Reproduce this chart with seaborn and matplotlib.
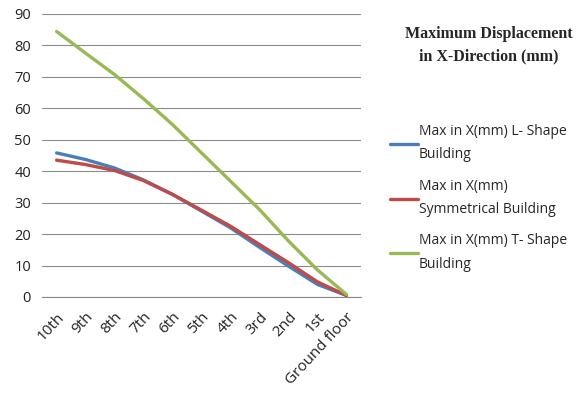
import matplotlib
matplotlib.use("Agg")
import matplotlib.pyplot as plt
import seaborn as sns
import pandas as pd
from matplotlib.ticker import FixedLocator

floors = ["10th", "9th", "8th", "7th", "6th", "5th", "4th", "3rd", "2nd", "1st", "Ground floor"]
l_shape = [45.8, 43.7, 41.0, 37.2, 32.6, 27.3, 22.0, 15.8, 9.8, 4.0, 0.5]
symmetrical = [43.5, 42.1, 40.2, 37.0, 32.6, 27.6, 22.5, 16.7, 10.9, 4.8, 0.5]
t_shape = [84.4, 77.5, 70.7, 63.0, 54.8, 45.8, 36.8, 27.8, 17.8, 8.6, 0.8]
series_names = ["Max in X(mm) L- Shape\nBuilding",
                "Max in X(mm)\nSymmetrical Building",
                "Max in X(mm) T- Shape\nBuilding"]
colors = ["#4A7EBB", "#BE4B48", "#98B954"]
title = "Maximum Displacement\nin X-Direction (mm)"

rows = []
for name, vals in zip(series_names, [l_shape, symmetrical, t_shape]):
    for i, (f, v) in enumerate(zip(floors, vals)):
        rows.append({"pos": i, "floor": f, "value": v, "series": name})
df = pd.DataFrame(rows)

sns.set_style("white")
plt.rcParams["font.family"] = ["Open Sans", "DejaVu Sans"]

fig = plt.figure(figsize=(5.85, 3.96), dpi=100)
ax = fig.add_axes([0.072, 0.25, 0.545, 0.715])

sns.lineplot(data=df, x="pos", y="value", hue="series", palette=colors,
             hue_order=series_names, linewidth=2.4, ax=ax, legend=True, sort=False)

ax.set_xlim(-0.5, len(floors) - 0.5)
ax.set_ylim(0, 90)
ax.set_yticks(range(0, 91, 10))
ax.set_xticks(range(len(floors)))
ax.set_xticklabels(floors, rotation=47, ha="right", rotation_mode="anchor", fontsize=11, color="#222222")
ax.tick_params(axis="y", labelsize=10.5, labelcolor="#222222", length=0, pad=8)
ax.tick_params(axis="x", length=0, pad=9)
ax.xaxis.set_minor_locator(FixedLocator([i - 0.5 for i in range(len(floors) + 1)]))
ax.tick_params(axis="x", which="minor", length=5, color="#888888", direction="out", width=0.8)
ax.set_xlabel("")
ax.set_ylabel("")
ax.grid(axis="y", color="#8c8c8c", linewidth=0.8)
ax.set_axisbelow(True)
for s in ["top", "right", "left"]:
    ax.spines[s].set_visible(False)
ax.spines["bottom"].set_color("#888888")
ax.spines["bottom"].set_linewidth(0.8)

handles, labels = ax.get_legend_handles_labels()
ax.get_legend().remove()
leg = fig.legend(handles, labels, loc="upper left", bbox_to_anchor=(0.645, 0.718),
                 frameon=False, fontsize=10, handlelength=2.0, handletextpad=0.1,
                 labelspacing=1.18)
for t in leg.get_texts():
    t.set_linespacing(1.75)

fig.text(0.835, 0.935, title, ha="center", va="top", fontsize=11.5,
         fontweight="bold", family=["Liberation Serif", "DejaVu Serif"], linespacing=1.55)

fig.savefig("out.png", dpi=100, facecolor="white")
